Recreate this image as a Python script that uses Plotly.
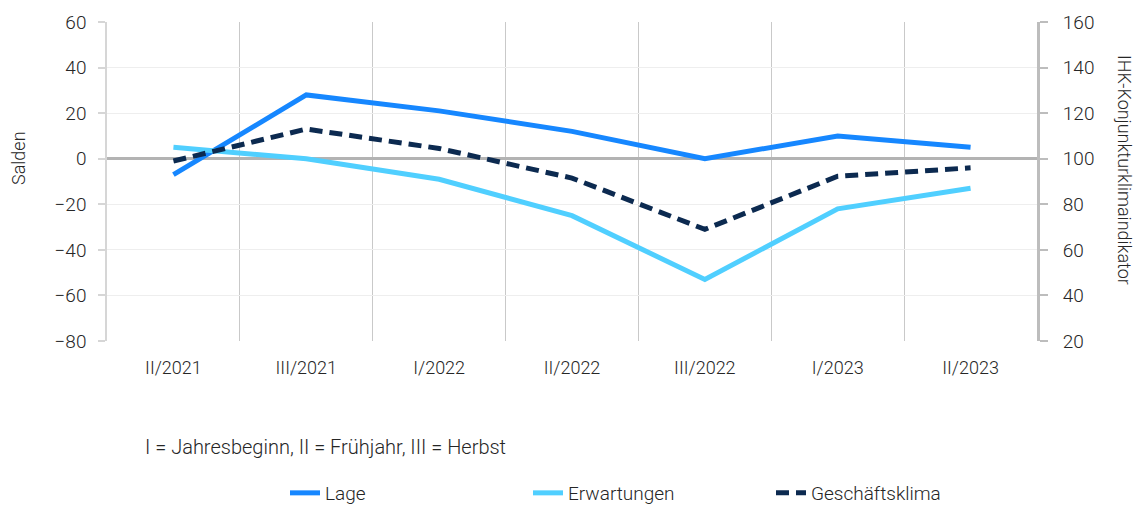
import plotly.graph_objects as go

# Survey periods (I = start of year, II = spring, III = autumn)
periods = ["II/2021", "III/2021", "I/2022", "II/2022", "III/2022", "I/2023", "II/2023"]

# Balances (left axis, "Salden")
lage = [-7, 28, 21, 12, 0, 10, 5]
erwartungen = [5, 0, -9, -25, -53, -22, -13]

# Business climate indicator (right axis)
geschaeftsklima = [99, 113, 104.5, 91.5, 69, 92.3, 96]

x_pos = list(range(len(periods)))
boundaries = [i + 0.5 for i in range(len(periods) - 1)]

FONT = "Roboto, Open Sans, sans-serif"
TEXT = "#262626"
WEIGHT = 300

# plot-area geometry in pixels
W, H = 1142, 507
L, R, T, B = 107, 105, 22, 166
PW, PH = W - L - R, H - T - B


def f(size):
    return dict(family=FONT, size=size, color=TEXT, weight=WEIGHT)


fig = go.Figure()
fig.add_trace(go.Scatter(
    x=x_pos, y=lage, name="Lage", mode="lines",
    line=dict(color="#1687ff", width=5), yaxis="y",
))
fig.add_trace(go.Scatter(
    x=x_pos, y=erwartungen, name="Erwartungen", mode="lines",
    line=dict(color="#50cfff", width=5), yaxis="y",
))
fig.add_trace(go.Scatter(
    x=x_pos, y=geschaeftsklima, name="Geschäftsklima", mode="lines",
    line=dict(color="#0c2a50", width=5, dash="13px,7px"), yaxis="y2",
))

fig.update_layout(
    width=W, height=H,
    margin=dict(l=L, r=R, t=T, b=B, autoexpand=False),
    paper_bgcolor="white", plot_bgcolor="white",
    font=f(18),
    showlegend=True,
    legend=dict(
        orientation="h", xref="container", yref="container",
        x=285 / W, xanchor="left",
        y=(H - 493) / H, yanchor="middle",
        font=f(19), entrywidth=198, entrywidthmode="pixels",
        traceorder="normal", tracegroupgap=0,
    ),
    xaxis=dict(
        range=[-0.5, 6.5], tickmode="array", tickvals=x_pos, ticktext=periods,
        showgrid=False, zeroline=False, showline=False, ticks="",
        ticklabelstandoff=14,
        minor=dict(tickmode="array", tickvals=boundaries, showgrid=True,
                   gridcolor="#c9c9c9", gridwidth=1.3),
        tickfont=f(18),
    ),
    yaxis=dict(
        range=[-80, 60], dtick=20, tick0=0,
        showgrid=True, gridcolor="#eeeeee", gridwidth=1,
        zeroline=True, zerolinecolor="#b3b3b3", zerolinewidth=3,
        showline=True, linecolor="#d6d6d6", linewidth=1.5,
        ticks="outside", ticklen=7, tickcolor="#d6d6d6", tickwidth=1.5,
        ticklabelstandoff=8,
        tickfont=f(19),
    ),
    yaxis2=dict(
        range=[20, 160], dtick=20, tick0=20, overlaying="y", side="right",
        showgrid=False, zeroline=False,
        showline=True, linecolor="#bdbdbd", linewidth=3,
        ticks="outside", ticklen=8, tickcolor="#bdbdbd", tickwidth=2,
        ticklabelstandoff=11,
        tickfont=f(19),
    ),
)

# axis titles
fig.add_annotation(
    text="Salden", xref="paper", yref="paper",
    x=-(L - 18) / PW, y=(T + PH - 158) / PH, textangle=-90,
    xanchor="center", yanchor="middle", showarrow=False, font=f(18),
)
fig.add_annotation(
    text="IHK-Konjunkturklimaindikator", xref="paper", yref="paper",
    x=(1125 - L) / PW, y=(T + PH - 170) / PH, textangle=90,
    xanchor="center", yanchor="middle", showarrow=False, font=f(18),
)

# period key
fig.add_annotation(
    text="I = Jahresbeginn, II = Frühjahr, III = Herbst",
    xref="paper", yref="paper", x=(143 - L) / PW, y=-(447 - (T + PH)) / PH,
    xanchor="left", yanchor="middle", showarrow=False, font=f(20),
)

fig.write_html("out.html")
